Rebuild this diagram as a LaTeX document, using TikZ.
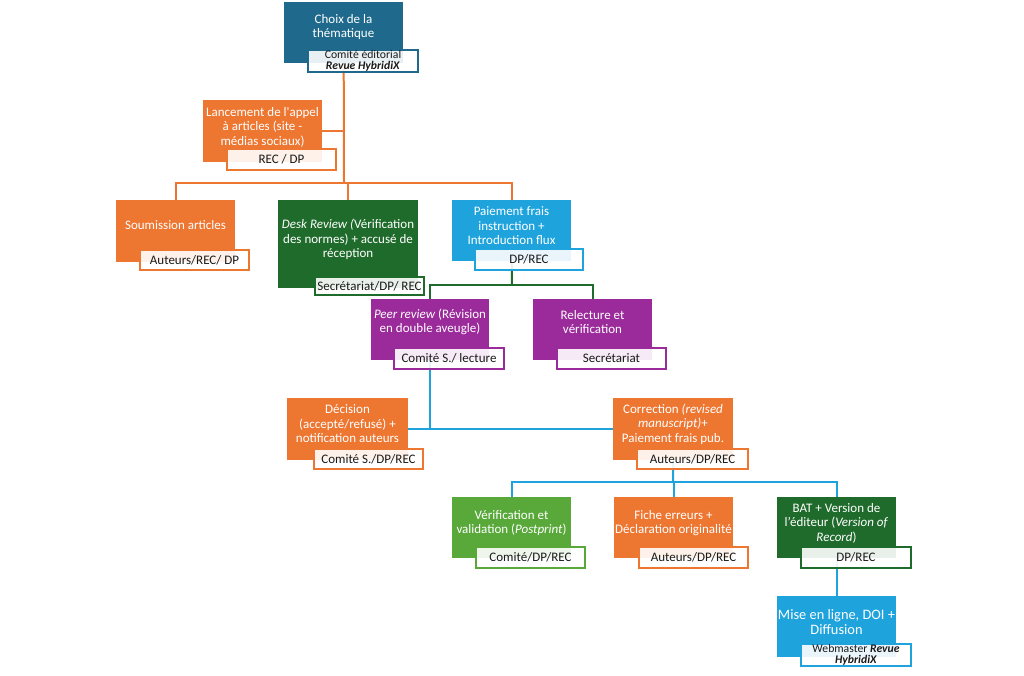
\documentclass[tikz,border=0pt]{standalone}
\usepackage{fontspec}
\setmainfont{Carlito}
\usetikzlibrary{backgrounds}
\definecolor{cteal}{HTML}{1F6A8C}
\definecolor{corange}{HTML}{ED7631}
\definecolor{cdgreen}{HTML}{1F6B2B}
\definecolor{clgreen}{HTML}{58A83A}
\definecolor{cblue}{HTML}{1FA3DD}
\definecolor{cpurple}{HTML}{9B2A9B}
\definecolor{ctext}{HTML}{1A1A1A}
\tikzset{
  mainbox/.style={fill=#1, draw=none, inner sep=0pt, anchor=north west},
  boxtext/.style={text=white, align=center, inner sep=0pt, font=\fontsize{13}{14.5}\selectfont},
  labbox/.style={draw=#1, line width=2pt, fill=white, fill opacity=0.9, text opacity=1, text=ctext,
    inner sep=0pt, anchor=north west, align=center, font=\fontsize{13}{14}\selectfont},
  conn/.style={draw=#1, line width=2pt},
}
\begin{document}
\begin{tikzpicture}[x=1pt,y=-1pt]
\useasboundingbox (0,0) rectangle (1024,675);

% ---------- boxes ----------
% top
\node[mainbox=cteal, minimum width=119pt, minimum height=61pt] (top) at (284,2) {};
\node[labbox=cteal, minimum width=110pt, minimum height=22pt, font=\fontsize{11.7}{11.5}\selectfont] (topl) at (307,49) {Comité éditorial\\\textbf{\textit{Revue HybridiX}}};
\node[boxtext] (topt) at (343.5,27) {Choix de la\\thématique};

% Lancement
\node[mainbox=corange, minimum width=119pt, minimum height=62pt] (lanc) at (203,100) {};
\node[labbox=corange, minimum width=109pt, minimum height=21pt] (lancl) at (226,148) {REC / DP};
\node[boxtext] (lanct) at (262.5,127) {Lancement de l\textquotesingle appel\\à articles (site -\\médias sociaux)};

% Soumission
\node[mainbox=corange, minimum width=119pt, minimum height=62pt] (soum) at (116,200) {};
\node[labbox=corange, minimum width=109pt, minimum height=20pt] (souml) at (139,249) {Auteurs/REC/ DP};
\node[boxtext] (soumt) at (175.5,225) {Soumission articles};

% Desk review
\node[mainbox=cdgreen, minimum width=140pt, minimum height=88pt] (desk) at (278,200) {};
\node[labbox=cdgreen, minimum width=109pt, minimum height=18pt] (deskl) at (314,276) {Secrétariat/DP/ REC};
\node[boxtext] (deskt) at (348,239.5) {\textit{Desk Review (}Vérification\\des normes) + accusé de\\réception};

% Paiement
\node[mainbox=cblue, minimum width=119pt, minimum height=61pt] (pai) at (452,200) {};
\node[labbox=cblue, minimum width=108pt, minimum height=21pt] (pail) at (474,248) {DP/REC};
\node[boxtext] (pait) at (511.5,226) {Paiement frais\\instruction +\\Introduction flux};

% Peer review
\node[mainbox=cpurple, minimum width=118pt, minimum height=61pt] (peer) at (371,299) {};
\node[labbox=cpurple, minimum width=110pt, minimum height=21pt] (peerl) at (393,347) {Comité S./ lecture};
\node[boxtext] (peert) at (430,322) {\textit{Peer review} (Révision\\en double aveugle)};

% Relecture
\node[mainbox=cpurple, minimum width=119pt, minimum height=61pt] (rel) at (533,299) {};
\node[labbox=cpurple, minimum width=109pt, minimum height=21pt] (rell) at (556,347) {Secrétariat};
\node[boxtext] (relt) at (592.5,322) {Relecture et\\vérification};

% Decision
\node[mainbox=corange, minimum width=121pt, minimum height=62pt] (dec) at (287,398) {};
\node[labbox=corange, minimum width=109pt, minimum height=20pt] (decl) at (313,448) {Comité S./DP/REC};
\node[boxtext] (dect) at (347.5,424) {Décision\\(accepté/refusé) +\\notification auteurs};

% Correction
\node[mainbox=corange, minimum width=120pt, minimum height=62pt] (corr) at (613,398) {};
\node[labbox=corange, minimum width=111pt, minimum height=20pt] (corrl) at (636,448) {Auteurs/DP/REC};
\node[boxtext] (corrt) at (673,424) {Correction \textit{(revised}\\\textit{manuscript)}+\\Paiement frais pub.};

% Verification
\node[mainbox=clgreen, minimum width=119pt, minimum height=61pt] (verif) at (452,497) {};
\node[labbox=clgreen, minimum width=109pt, minimum height=21pt] (verifl) at (475,546) {Comité/DP/REC};
\node[boxtext] (verift) at (511.5,523) {Vérification et\\validation (\textit{Postprint})};

% Fiche
\node[mainbox=corange, minimum width=119pt, minimum height=61pt] (fiche) at (614,497) {};
\node[labbox=corange, minimum width=109pt, minimum height=21pt] (fichel) at (638,546) {Auteurs/DP/REC};
\node[boxtext] (fichet) at (673.5,523) {Fiche erreurs +\\Déclaration originalité};

% BAT
\node[mainbox=cdgreen, minimum width=119pt, minimum height=61pt] (bat) at (777,497) {};
\node[labbox=cdgreen, minimum width=110pt, minimum height=21pt] (batl) at (800,546) {DP/REC};
\node[boxtext] (batt) at (836.5,523) {BAT + Version de\\l’éditeur (\textit{Version of}\\\textit{Record})};

% Mise en ligne
\node[mainbox=cblue, minimum width=119pt, minimum height=61pt] (mise) at (777,596) {};
\node[labbox=cblue, minimum width=110pt, minimum height=22pt, font=\fontsize{11.7}{11.5}\selectfont] (misel) at (800,643) {Webmaster \textbf{\textit{Revue}}\\\textbf{\textit{HybridiX}}};
\node[boxtext, font=\fontsize{14.4}{15.5}\selectfont] (miset) at (836.5,622) {Mise en ligne, DOI +\\Diffusion};

% ---------- connectors ----------
\coordinate (j1) at (344,183);
\coordinate (j2) at (512,285);
\coordinate (j4) at (673,482);
\begin{scope}[on background layer]
  \fill[white] (0,0) rectangle (1024,675);
  \draw[conn=corange] (top.south) -- (j1);
  \draw[conn=corange] (lanc.east) -- (lanc.east -| j1);
  \draw[conn=corange] (soum.north) |- (j1) -| (pai.north);
  \draw[conn=corange] (desk.north) -- (desk.north |- j1);
  \draw[conn=cdgreen] (pai.south) -- (j2);
  \draw[conn=cdgreen] (peer.north) |- (j2) -| (rel.north);
  \draw[conn=cblue] (peer.south) -- (peer.south |- dec.east);
  \draw[conn=cblue] (dec.east) -- (corr.west);
  \draw[conn=cblue] (corr.south) -- (j4);
  \draw[conn=cblue] (verif.north) |- (j4) -| (bat.north);
  \draw[conn=cblue] (fiche.north) -- (fiche.north |- j4);
  \draw[conn=cblue] (bat.south) -- (mise.north);
\end{scope}
\end{tikzpicture}
\end{document}
